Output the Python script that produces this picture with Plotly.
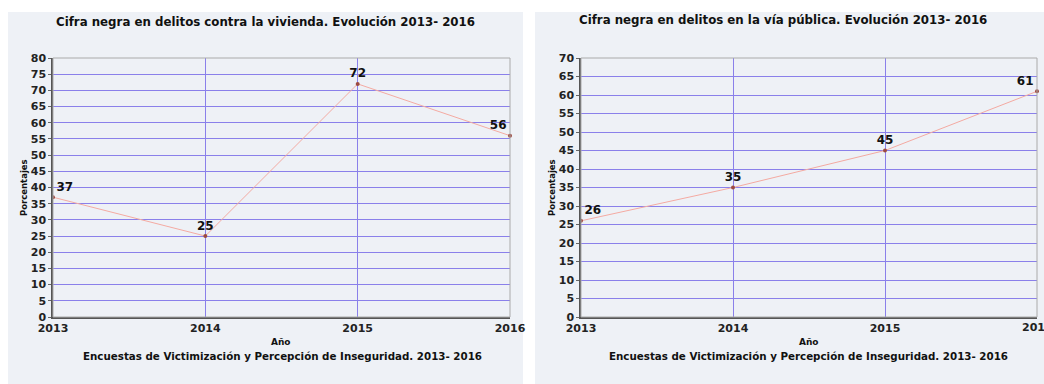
import plotly.graph_objects as go

years = [2013, 2014, 2015, 2016]
vivienda = [37, 25, 72, 56]
via_publica = [26, 35, 45, 61]

title_left = "Cifra negra en delitos contra la vivienda. Evolución 2013- 2016"
title_right = "Cifra negra en delitos en la vía pública. Evolución 2013- 2016"
x_title = "Año"
y_title = "Porcentajes"
source = "Encuestas de Victimización y Percepción de Inseguridad. 2013- 2016"

W, H = 1044, 384
FONT = "DejaVu Sans"
GRID = "#8a80ea"
LINE = "#f4aaa2"
MARK = "#9c4a40"
PANEL = "#eef1f6"

def px(x):
    return x / W

def py(y):
    return 1 - y / H

fig = go.Figure()

text_pos = ["top right", "top center", "top center", "top left"]
labelfont = dict(family=FONT, size=12, color="#111", weight="bold")

fig.add_trace(go.Scatter(
    x=years, y=vivienda, mode="lines+markers+text",
    text=[str(v) for v in vivienda], textposition=text_pos, textfont=labelfont,
    line=dict(color=LINE, width=1), marker=dict(color=MARK, size=4),
    xaxis="x", yaxis="y", cliponaxis=False, showlegend=False, hoverinfo="skip"))

fig.add_trace(go.Scatter(
    x=years, y=via_publica, mode="lines+markers+text",
    text=[str(v) for v in via_publica], textposition=text_pos, textfont=labelfont,
    line=dict(color=LINE, width=1), marker=dict(color=MARK, size=4),
    xaxis="x2", yaxis="y2", cliponaxis=False, showlegend=False, hoverinfo="skip"))

tickfont = dict(family=FONT, size=11, color="#222", weight="bold")

xcommon = dict(range=[2013, 2016], tickvals=years, ticktext=[str(y) for y in years],
               showgrid=True, gridcolor=GRID, gridwidth=1, zeroline=False,
               showline=True, linecolor="#555", linewidth=1.5, automargin=False,
               ticks="", tickfont=tickfont, fixedrange=True)
ycommon = dict(dtick=5, showgrid=True, gridcolor=GRID, gridwidth=1, zeroline=False,
               showline=True, linecolor="#555", linewidth=1.5, automargin=False,
               ticks="outside", ticklen=3, tickcolor="#666",
               tickfont=tickfont, fixedrange=True)

ydom = [py(317), py(58)]

fig.update_layout(
    template="none",
    width=W, height=H,
    margin=dict(l=0, r=0, t=0, b=0),
    paper_bgcolor="white", plot_bgcolor="white",
    xaxis=dict(domain=[px(53), px(510)], anchor="y", **xcommon),
    yaxis=dict(domain=ydom, anchor="x", range=[0, 80], **ycommon),
    xaxis2=dict(domain=[px(581), px(1037)], anchor="y2", **xcommon),
    yaxis2=dict(domain=ydom, anchor="x2", range=[0, 70], **ycommon),
)

shapes = [
    dict(type="rect", xref="paper", yref="paper", x0=px(8), x1=px(523), y0=0, y1=py(12),
         fillcolor=PANEL, line=dict(width=0), layer="below"),
    dict(type="rect", xref="paper", yref="paper", x0=px(535), x1=1, y0=0, y1=py(12),
         fillcolor=PANEL, line=dict(width=0), layer="below"),
    dict(type="rect", xref="x domain", yref="y domain", x0=0, x1=1, y0=0, y1=1,
         line=dict(color="#aaa", width=1), layer="above"),
    dict(type="rect", xref="x2 domain", yref="y2 domain", x0=0, x1=1, y0=0, y1=1,
         line=dict(color="#aaa", width=1), layer="above"),
]
fig.update_layout(shapes=shapes)

def ann(text, x, y, size, angle=0):
    return dict(text=text, xref="paper", yref="paper", x=px(x), y=py(y),
                xanchor="center", yanchor="middle", showarrow=False, textangle=angle,
                font=dict(family=FONT, size=size, color="#111", weight="bold"))

annotations = [
    ann(title_left, 265, 22, 11.8),
    ann(title_right, 783, 20, 11.8),
    ann(x_title, 281, 342, 9),
    ann(x_title, 809, 342, 9),
    ann(source, 282, 356, 10.3),
    ann(source, 808, 356, 10.3),
    ann(y_title, 24, 188, 8.5, -90),
    ann(y_title, 552, 188, 8.5, -90),
]
# last year tick label of the right chart, which runs past the page edge
annotations.append(dict(text=str(years[-1]), xref="x2", yref="paper", x=years[-1], y=py(327),
                        xanchor="center", yanchor="middle", showarrow=False,
                        font=tickfont))
fig.update_layout(annotations=annotations)

fig.write_html("out.html")
